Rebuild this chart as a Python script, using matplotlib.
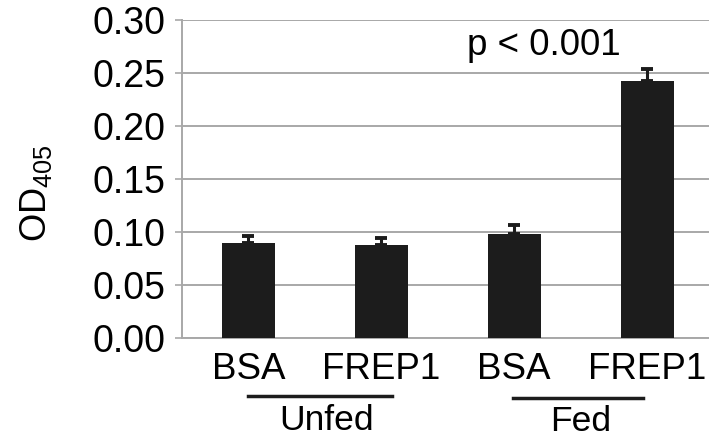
import matplotlib
matplotlib.use("Agg")
import matplotlib.pyplot as plt
from matplotlib.transforms import blended_transform_factory

plt.rcParams['font.family'] = ['Liberation Sans', 'DejaVu Sans']
plt.rcParams['mathtext.default'] = 'regular'

categories = ["BSA", "FREP1", "BSA", "FREP1"]
values = [0.090, 0.088, 0.098, 0.242]
errors = [0.006, 0.006, 0.009, 0.012]
groups = ["Unfed", "Fed"]
yticks = [0.00, 0.05, 0.10, 0.15, 0.20, 0.25, 0.30]

fig = plt.figure(figsize=(7.09, 4.43), dpi=100)
ax = fig.add_axes([182/709, 105/443, 1 - 182/709, 318/443])

x = list(range(len(categories)))
ax.set_axisbelow(True)
ax.yaxis.grid(True, color='#a8a8a8', linewidth=1.4)
ax.bar(x, values, width=0.4, color='#1c1c1c', zorder=3)
ax.errorbar(x, values, yerr=[[0]*len(errors), errors], fmt='none',
            ecolor='#1c1c1c', elinewidth=2.2, capsize=4.5, capthick=2.8, zorder=4)

ax.set_ylim(0, 0.30)
ax.set_xlim(-0.5, 3.466)
ax.set_yticks(yticks)
ax.set_yticklabels([f"{t:.2f}" for t in yticks], fontsize=27)
ax.set_xticks(x)
ax.set_xticklabels(categories, fontsize=26.5)
ax.tick_params(axis='y', length=5, width=1.2, color='#a8a8a8', pad=7)
ax.tick_params(axis='x', length=0, pad=10)

for s in ['top', 'right']:
    ax.spines[s].set_visible(False)
for s in ['left', 'bottom']:
    ax.spines[s].set_color('#a8a8a8')
    ax.spines[s].set_linewidth(1.4)

ax.set_ylabel(r'OD$_{405}$', fontsize=26)
ax.yaxis.set_label_coords(-0.243, 0.455)

trans = blended_transform_factory(ax.transData, ax.transAxes)
group_spans = [(0.0, 1.08), (1.99, 2.97)]
group_line_y = [-0.182, -0.189]
group_label_x = [0.59, 2.50]
group_label_y = [-0.258, -0.264]
for g, (a, b), ly, tx, ty in zip(groups, group_spans, group_line_y, group_label_x, group_label_y):
    ax.plot([a, b], [ly, ly], transform=trans, color='#1c1c1c', linewidth=2.5, clip_on=False)
    ax.text(tx, ty, g, transform=trans, ha='center', va='center', fontsize=25.5)

ax.text(2.226, 0.276, "p < 0.001", ha='center', va='center', fontsize=26.5)

fig.savefig("out.png", dpi=100)
